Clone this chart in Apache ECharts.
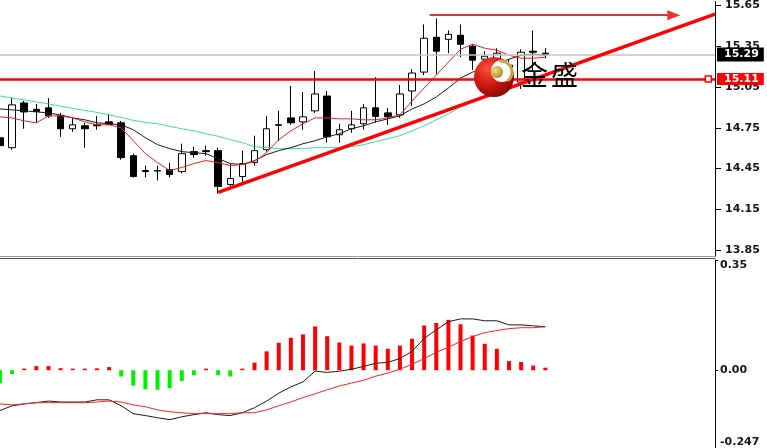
<!DOCTYPE html>
<html><head><meta charset="utf-8">
<script src="https://cdn.jsdelivr.net/npm/echarts@6/dist/echarts.min.js"></script>
<style>html,body{margin:0;padding:0;background:#fff}#c{width:767px;height:448px}</style>
</head><body><div id="c"></div>
<script>
// ---- data ----
const CATS = Array.from({length: 60}, (_, i) => 'B' + (i + 1));
const OPEN  = [14.677,14.604,14.933,14.886,14.897,14.838,14.743,14.765,14.772,14.794,14.787,14.545,14.436,14.436,14.443,14.428,14.575,14.582,14.582,14.333,14.392,14.494,14.589,14.772,14.823,14.794,14.875,14.984,14.699,14.743,14.780,14.897,14.860,14.845,15.021,15.160,15.416,15.401,15.431,15.350,15.255,15.226,15.211,15.087,15.314,15.299];
const CLOSE = [14.619,14.919,14.867,14.871,14.838,14.743,14.772,14.743,14.765,14.776,14.531,14.392,14.428,14.432,14.406,14.560,14.553,14.575,14.319,14.377,14.487,14.582,14.743,14.769,14.787,14.831,14.999,14.684,14.736,14.772,14.897,14.834,14.831,14.999,15.153,15.409,15.314,15.438,15.365,15.248,15.277,15.299,15.138,15.306,15.306,15.290];
const LOW   = [14.582,14.589,14.743,14.787,14.823,14.684,14.721,14.604,14.736,14.772,14.516,14.385,14.385,14.363,14.385,14.414,14.531,14.545,14.267,14.311,14.348,14.472,14.575,14.655,14.772,14.736,14.860,14.641,14.641,14.714,14.736,14.787,14.772,14.823,14.911,15.138,15.145,15.299,15.270,15.175,15.226,15.197,15.065,15.036,15.167,15.262];
const HIGH  = [14.728,14.970,14.948,14.926,14.970,14.860,14.823,14.787,14.838,14.853,14.801,14.560,14.472,14.472,14.494,14.633,14.611,14.619,14.604,14.487,14.582,14.692,14.838,14.875,15.058,15.014,15.167,15.021,14.780,14.875,14.926,15.123,14.897,15.065,15.182,15.511,15.555,15.467,15.511,15.365,15.314,15.336,15.255,15.328,15.467,15.336];
const MA_RED   = [14.831,14.823,14.801,14.787,14.838,14.838,14.823,14.794,14.772,14.772,14.750,14.655,14.560,14.494,14.436,14.458,14.487,14.509,14.494,14.472,14.480,14.502,14.567,14.663,14.728,14.780,14.823,14.823,14.816,14.816,14.809,14.809,14.823,14.845,14.948,15.043,15.138,15.233,15.328,15.365,15.336,15.321,15.284,15.262,15.262,15.270];
const MA_BLACK = [14.889,14.882,14.875,14.867,14.860,14.845,14.823,14.809,14.787,14.780,14.772,14.736,14.677,14.626,14.597,14.575,14.567,14.560,14.523,14.487,14.480,14.509,14.553,14.582,14.604,14.633,14.655,14.684,14.706,14.743,14.765,14.794,14.816,14.838,14.889,14.926,14.977,15.043,15.116,15.160,15.197,15.226,15.255,15.284,15.292,15.284];
const MA_GREEN = [14.984,14.970,14.955,14.941,14.926,14.908,14.893,14.878,14.864,14.845,14.827,14.805,14.790,14.780,14.761,14.743,14.728,14.706,14.688,14.663,14.641,14.611,14.604,14.597,14.597,14.597,14.604,14.604,14.604,14.611,14.626,14.648,14.670,14.692,14.728,14.765,14.809,14.853,14.904,14.948,14.984,15.014,15.043,15.072,15.109,15.138];
const MACD_HIST   = [-0.041,-0.012,0.005,0.013,0.013,0.0065,0.005,0.005,0.006,0.010,-0.020,-0.049,-0.060,-0.062,-0.057,-0.034,-0.016,0.005,-0.016,-0.020,0.005,0.024,0.060,0.087,0.103,0.114,0.139,0.108,0.088,0.078,0.085,0.078,0.068,0.078,0.100,0.142,0.150,0.160,0.146,0.110,0.084,0.068,0.029,0.026,0.015,0.008];
const MACD_MAIN   = [-0.128,-0.113,-0.107,-0.103,-0.098,-0.101,-0.101,-0.101,-0.094,-0.094,-0.113,-0.138,-0.144,-0.151,-0.157,-0.148,-0.141,-0.135,-0.141,-0.144,-0.135,-0.119,-0.098,-0.073,-0.053,-0.037,-0.003,-0.007,-0.003,0.003,0.012,0.022,0.025,0.037,0.060,0.101,0.128,0.154,0.163,0.163,0.157,0.157,0.144,0.144,0.141,0.138];
const MACD_SIGNAL = [-0.107,-0.110,-0.107,-0.103,-0.103,-0.103,-0.103,-0.103,-0.101,-0.098,-0.101,-0.110,-0.116,-0.126,-0.132,-0.135,-0.138,-0.138,-0.138,-0.138,-0.135,-0.135,-0.126,-0.113,-0.101,-0.087,-0.075,-0.062,-0.050,-0.041,-0.032,-0.019,-0.009,0.003,0.019,0.037,0.057,0.073,0.091,0.107,0.119,0.126,0.132,0.135,0.135,0.138];
const PRICE_TICKS = [13.85, 14.15, 14.45, 14.75, 15.05, 15.35, 15.65];
const MACD_TICKS = [-0.247, 0, 0.35];
const LEVEL_BID = 15.29;
const LEVEL_RED = 15.11;
const TREND = [[18, 14.275], [59, 15.586]];
const ARROW = [[35.45, 15.579], [55.6, 15.579]];
const LEVEL_MARK_X = 58.45;

const candles = OPEN.map((o, i) => [o, CLOSE[i], LOW[i], HIGH[i]]);
const font = {fontFamily: 'DejaVu Sans', fontWeight: 'bold', fontSize: 11};

const chart = echarts.init(document.getElementById('c'));
chart.setOption({
  animation: false,
  backgroundColor: '#ffffff',
  grid: [
    {left: -2, top: 0, width: 717, height: 256},
    {left: -2, top: 260, width: 717, height: 190}
  ],
  xAxis: [
    {type: 'category', gridIndex: 0, data: CATS, boundaryGap: false,
     axisLine: {show: true, onZero: false, lineStyle: {color: '#a0a0a0', width: 1}},
     axisTick: {show: false}, axisLabel: {show: false}, splitLine: {show: false}},
    {type: 'category', gridIndex: 1, data: CATS, boundaryGap: false, position: 'top', offset: 2,
     axisLine: {show: true, onZero: false, lineStyle: {color: '#505050', width: 1}},
     axisTick: {show: false}, axisLabel: {show: false}, splitLine: {show: false}},
    {type: 'value', gridIndex: 0, min: 0, max: 59, show: false,
     axisLine: {onZero: false}}
  ],
  yAxis: [
    {type: 'value', gridIndex: 0, position: 'right', min: 13.807, max: 15.679,
     axisLine: {show: true, onZero: false, lineStyle: {color: '#000', width: 1}},
     axisTick: {show: true, length: 6, customValues: PRICE_TICKS, lineStyle: {color: '#000'}},
     axisLabel: Object.assign({customValues: PRICE_TICKS, margin: 10, color: '#15151f',
       formatter: v => v.toFixed(2)}, font),
     splitLine: {show: false}},
    {type: 'value', gridIndex: 1, position: 'right', min: -0.247, max: 0.35,
     axisLine: {show: true, onZero: false, lineStyle: {color: '#000', width: 1}},
     axisTick: {show: true, length: 3, customValues: MACD_TICKS, lineStyle: {color: '#000'}},
     axisLabel: Object.assign({customValues: MACD_TICKS, margin: 5, color: '#15151f',
       verticalAlignMaxLabel: 'top', verticalAlignMinLabel: 'bottom',
       formatter: v => v === 0 ? '0.00' : (v > 0 ? v.toFixed(2) : String(v))}, font),
     splitLine: {show: false}}
  ],
  series: [
    {name: 'bid', type: 'line', xAxisIndex: 2, yAxisIndex: 0, data: [], z: 1,
     markLine: {silent: true, symbol: 'none', animation: false,
       lineStyle: {color: '#c4c4c4', width: 1.5, type: 'solid'},
       label: Object.assign({show: true, position: 'end', distance: 2, formatter: () => LEVEL_BID.toFixed(2),
         color: '#fff', backgroundColor: '#000', padding: [2, 5, 1, 7]}, font),
       data: [{yAxis: LEVEL_BID}]}},
    {name: 'price', type: 'candlestick', xAxisIndex: 0, yAxisIndex: 0, data: candles, barWidth: 7, z: 2,
     itemStyle: {color: '#ffffff', color0: '#000000', borderColor: '#000000', borderColor0: '#000000', borderWidth: 1}},
    {name: 'MA green', type: 'line', xAxisIndex: 0, yAxisIndex: 0, data: MA_GREEN, symbol: 'none', z: 3,
     lineStyle: {color: '#3ee08f', width: 1}},
    {name: 'MA black', type: 'line', xAxisIndex: 0, yAxisIndex: 0, data: MA_BLACK, symbol: 'none', z: 3,
     lineStyle: {color: '#1a1a1a', width: 1}},
    {name: 'MA red', type: 'line', xAxisIndex: 0, yAxisIndex: 0, data: MA_RED, symbol: 'none', z: 3,
     lineStyle: {color: '#ee2222', width: 1}},
    {name: 'level', type: 'line', xAxisIndex: 2, yAxisIndex: 0, data: [], z: 4,
     markLine: {silent: true, symbol: 'none', animation: false,
       lineStyle: {color: '#ff0000', width: 2.5, type: 'solid'},
       label: Object.assign({show: true, position: 'end', distance: 2, formatter: () => LEVEL_RED.toFixed(2),
         color: '#fff', backgroundColor: '#ff0000', padding: [1, 5, 0, 7]}, font),
       data: [{yAxis: LEVEL_RED}]},
     markPoint: {silent: true, symbol: 'rect', symbolSize: 6, animation: false,
       itemStyle: {color: '#ffffff', borderColor: '#ff0000', borderWidth: 1.5},
       label: {show: false},
       data: [{coord: [LEVEL_MARK_X, LEVEL_RED]}]}},
    {name: 'trend', type: 'line', xAxisIndex: 2, yAxisIndex: 0, data: [], z: 4,
     markLine: {silent: true, symbol: 'none', animation: false,
       lineStyle: {color: '#ff0000', width: 3.5, type: 'solid'}, label: {show: false},
       data: [[{coord: TREND[0]}, {coord: TREND[1]}]]}},
    {name: 'arrow', type: 'line', xAxisIndex: 2, yAxisIndex: 0, data: [], z: 4,
     markLine: {silent: true, symbol: ['none', 'triangle'], symbolSize: [10, 13], animation: false,
       lineStyle: {color: '#ef3030', width: 2, type: 'solid'}, label: {show: false},
       data: [[{coord: ARROW[0]}, {coord: ARROW[1]}]]}},
    {name: 'hist', type: 'bar', xAxisIndex: 1, yAxisIndex: 1, data: MACD_HIST, barWidth: 4,
     itemStyle: {color: p => p.value >= 0 ? '#ff0000' : '#00f000'}},
    {name: 'macd', type: 'line', xAxisIndex: 1, yAxisIndex: 1, data: MACD_MAIN, symbol: 'none',
     lineStyle: {color: '#1a1a1a', width: 1}},
    {name: 'signal', type: 'line', xAxisIndex: 1, yAxisIndex: 1, data: MACD_SIGNAL, symbol: 'none',
     lineStyle: {color: '#ff2020', width: 1}}
  ],
  graphic: [
    {type: 'circle', z: 100, shape: {cx: 494, cy: 77, r: 20},
     style: {fill: new echarts.graphic.RadialGradient(0.35, 0.3, 0.8, [
       {offset: 0, color: '#ff5040'}, {offset: 0.5, color: '#d01812'}, {offset: 1, color: '#780404'}])}},
    {type: 'circle', z: 101, shape: {cx: 502, cy: 71, r: 11}, style: {fill: '#ffffff'}},
    {type: 'arc', z: 102, shape: {cx: 501, cy: 72, r: 11, startAngle: -Math.PI * 0.55, endAngle: Math.PI * 0.3},
     style: {stroke: '#c9a23a', lineWidth: 3, fill: null}},
    {type: 'circle', z: 103, shape: {cx: 497, cy: 72, r: 6},
     style: {fill: new echarts.graphic.RadialGradient(0.35, 0.35, 0.7, [
       {offset: 0, color: '#f4e08a'}, {offset: 1, color: '#b08a18'}])}},
    {type: 'text', z: 104, x: 521, y: 75,
     style: {text: '金', font: '27px "Noto Sans CJK SC"', fill: '#000', verticalAlign: 'middle'}},
    {type: 'text', z: 104, x: 551, y: 75,
     style: {text: '盛', font: '27px "Noto Sans CJK SC"', fill: '#000', verticalAlign: 'middle'}}
  ]
});
</script></body></html>
